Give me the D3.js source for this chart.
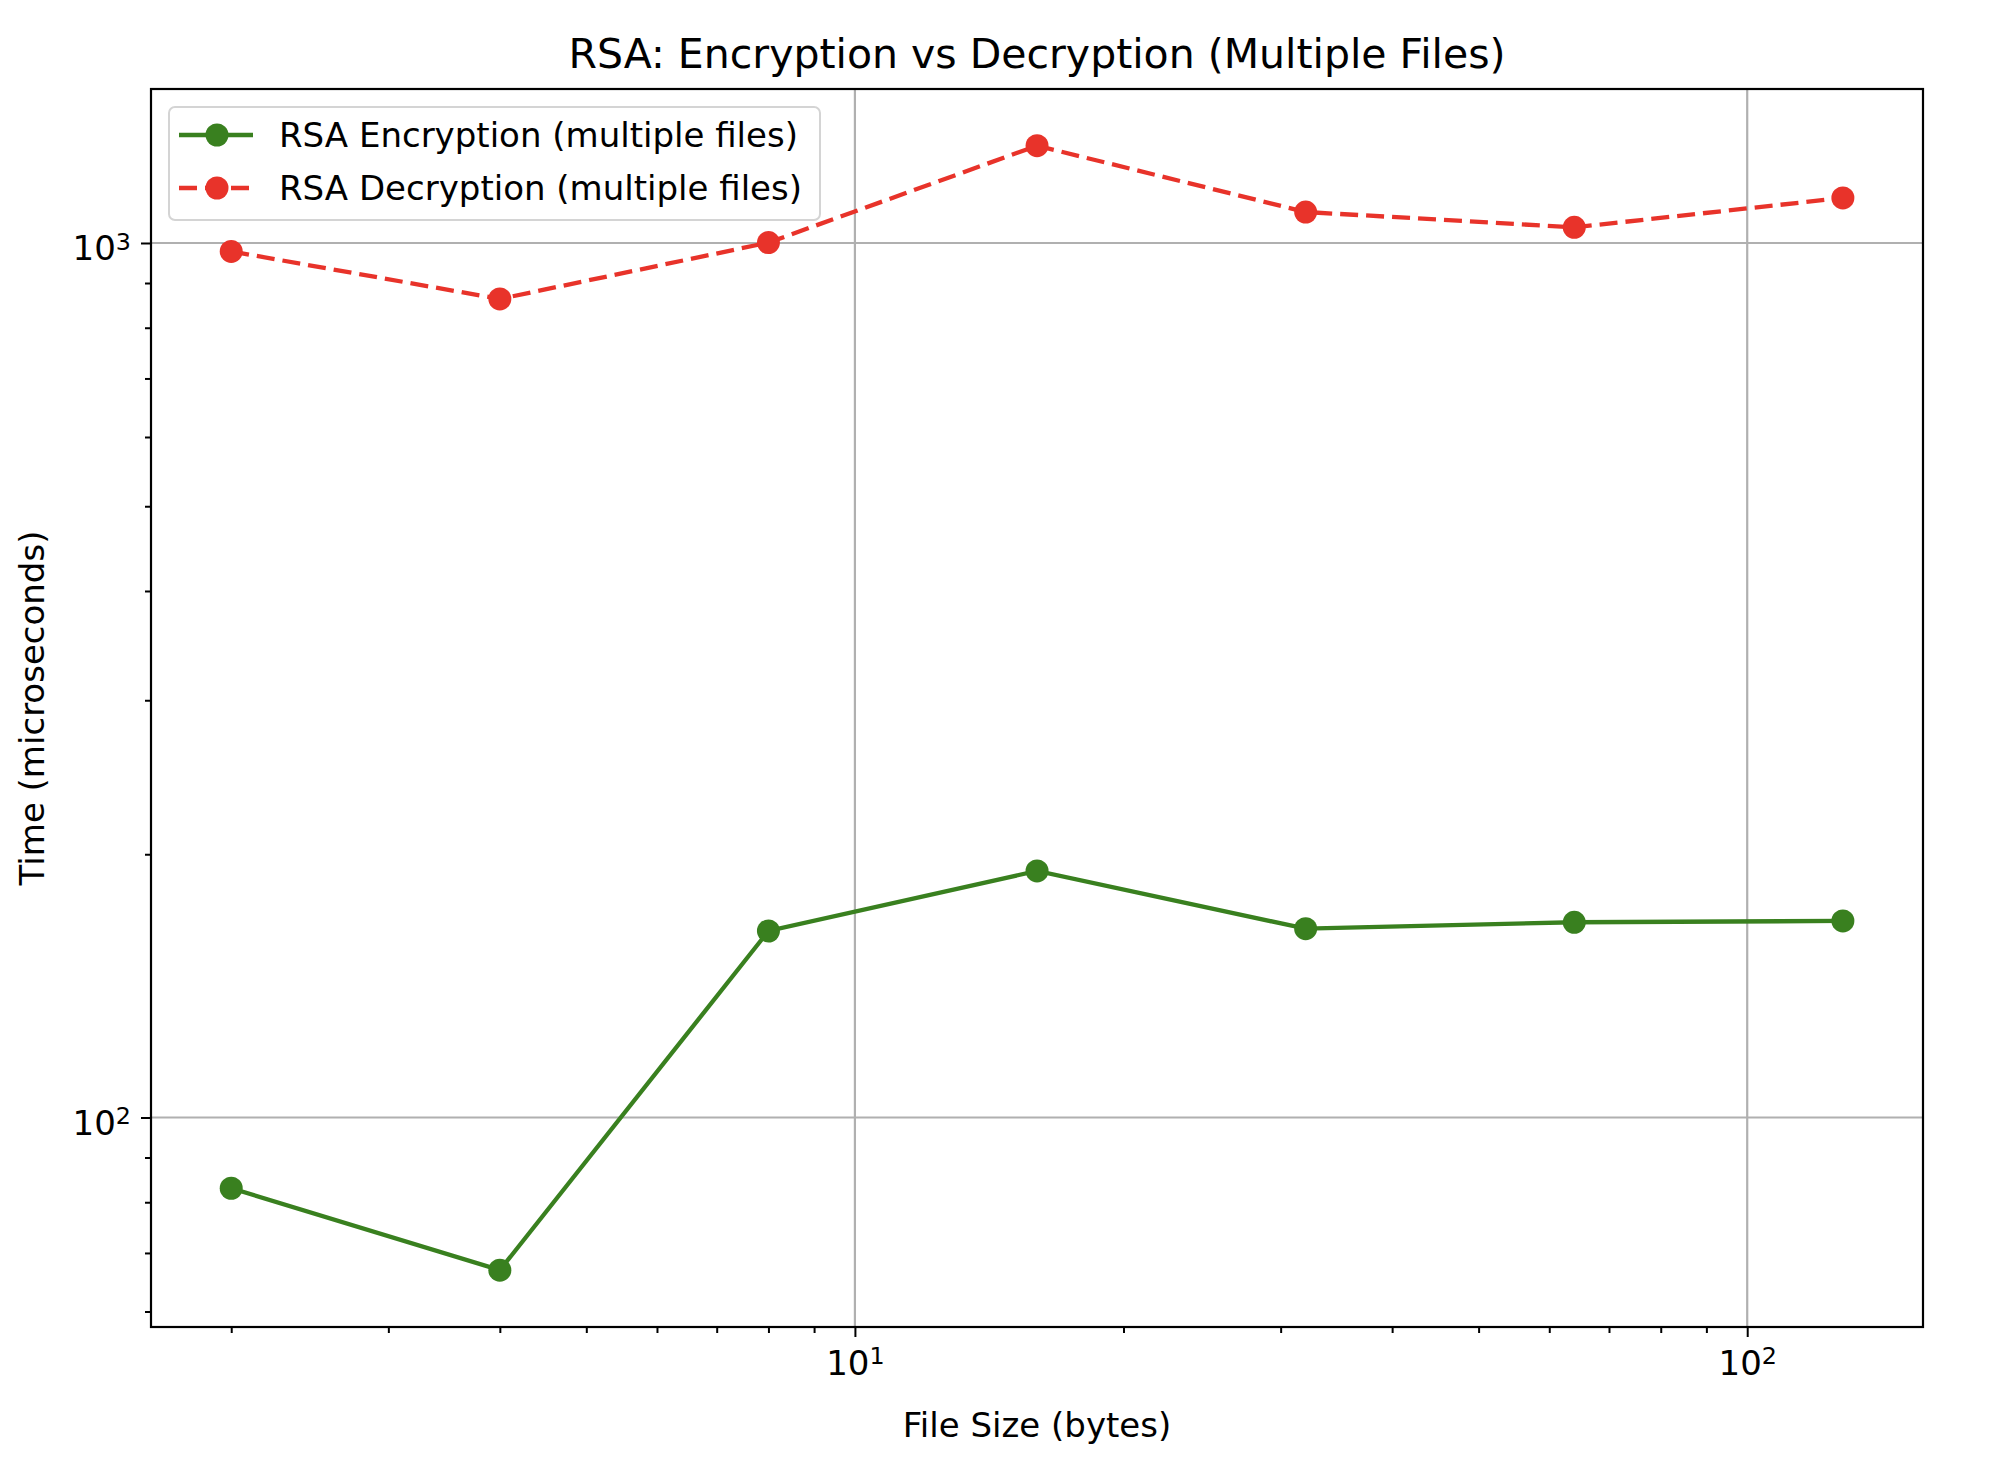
<!DOCTYPE html>
<html>
<head>
<meta charset="utf-8">
<script src="https://cdn.jsdelivr.net/npm/d3@7"></script>
<style>
  body { margin: 0; background: #fff; }
  text { font-family: "DejaVu Sans", sans-serif; fill: #000; }
</style>
</head>
<body>
<div id="chart"></div>
<script>
// data
var fileSizes = [2, 4, 8, 16, 32, 64, 128];
var encTimes = [83.0, 66.9, 163.4, 191.4, 164.4, 167.2, 167.8];
var decTimes = [978, 863, 1001, 1292, 1085, 1042, 1126];
var seriesNames = ['RSA Encryption (multiple files)', 'RSA Decryption (multiple files)'];
var xMajor = [10, 100];
var yMajor = [100, 1000];

var width = 2002;
var height = 1458;
var margin = {left: 151, right: 79, top: 89, bottom: 131};
var iw = width - margin.left - margin.right;
var ih = height - margin.top - margin.bottom;

var green = '#39801f';
var red = '#e8332a';
var dash = '18,8';

var x = d3.scaleLog()
  .domain([1.626, 157.4])
  .range([0, iw]);

var y = d3.scaleLog()
  .domain([57.6, 1500])
  .range([ih, 0]);

var svg = d3.select('#chart')
  .append('svg')
    .attr('width', width)
    .attr('height', height);

var g = svg.append('g')
  .attr('transform', 'translate(' + margin.left + ',' + margin.top + ')');

// grid (major only)
g.append('g').selectAll('line')
  .data(xMajor).enter()
  .append('line')
    .attr('x1', d => x(d)).attr('x2', d => x(d))
    .attr('y1', 0).attr('y2', ih)
    .attr('stroke', '#b0b0b0').attr('stroke-width', 2.2);

g.append('g').selectAll('line')
  .data(yMajor).enter()
  .append('line')
    .attr('y1', d => y(d)).attr('y2', d => y(d))
    .attr('x1', 0).attr('x2', iw)
    .attr('stroke', '#b0b0b0').attr('stroke-width', 2.2);

// minor ticks
var xMinor = x.ticks().filter(d => xMajor.indexOf(d) < 0);
var yMinor = y.ticks().filter(d => yMajor.indexOf(d) < 0);

g.append('g')
  .attr('transform', 'translate(0,' + ih + ')')
  .call(d3.axisBottom(x).tickValues(xMinor).tickSize(6).tickFormat(''));
var xAxisG = g.append('g')
  .attr('transform', 'translate(0,' + ih + ')')
  .call(d3.axisBottom(x).tickValues(xMajor).tickSize(10).tickPadding(14).tickFormat(d => d));

g.append('g')
  .call(d3.axisLeft(y).tickValues(yMinor).tickSize(6).tickFormat(''));
var yAxisG = g.append('g')
  .call(d3.axisLeft(y).tickValues(yMajor).tickSize(10).tickPadding(10).tickFormat(d => d));

g.selectAll('.domain').remove();
g.selectAll('.tick line').attr('stroke', '#000').attr('stroke-width', 2);

// power-of-ten labels
function sup(sel) {
  sel.each(function(d) {
    var t = d3.select(this);
    var p = Math.round(Math.log10(d));
    t.text(null);
    t.append('tspan').text('10');
    t.append('tspan').attr('dy', '-0.45em').attr('font-size', '0.7em').text(p);
  });
}
xAxisG.selectAll('.tick text').attr('font-size', 34).attr('font-family', 'DejaVu Sans').call(sup);
yAxisG.selectAll('.tick text').attr('font-size', 34).attr('font-family', 'DejaVu Sans').attr('dy', '0.5em').call(sup);

// frame
g.append('rect')
  .attr('width', iw).attr('height', ih)
  .attr('fill', 'none').attr('stroke', '#000').attr('stroke-width', 2.2);

var line = d3.line()
  .x((d, i) => x(fileSizes[i]))
  .y(d => y(d));

g.append('path')
  .datum(encTimes)
  .attr('d', line)
  .attr('fill', 'none')
  .attr('stroke', green)
  .attr('stroke-width', 4.3);

g.append('path')
  .datum(decTimes)
  .attr('d', line)
  .attr('fill', 'none')
  .attr('stroke', red)
  .attr('stroke-width', 4.3)
  .attr('stroke-dasharray', dash);

g.append('g').selectAll('circle')
  .data(encTimes).enter()
  .append('circle')
    .attr('cx', (d, i) => x(fileSizes[i]))
    .attr('cy', d => y(d))
    .attr('r', 11.5)
    .attr('fill', green);

g.append('g').selectAll('circle')
  .data(decTimes).enter()
  .append('circle')
    .attr('cx', (d, i) => x(fileSizes[i]))
    .attr('cy', d => y(d))
    .attr('r', 11.5)
    .attr('fill', red);

// legend
var legend = svg.append('g').attr('transform', 'translate(169,107)');
legend.append('rect')
  .attr('width', 651).attr('height', 113)
  .attr('rx', 6)
  .attr('fill', '#fff').attr('fill-opacity', 0.8)
  .attr('stroke', '#d4d4d4').attr('stroke-width', 2);

var items = legend.selectAll('g.item')
  .data(seriesNames).enter()
  .append('g')
    .attr('class', 'item')
    .attr('transform', (d, i) => 'translate(0,' + (28 + i * 53) + ')');

items.append('line')
  .attr('x1', 10).attr('x2', 84)
  .attr('stroke', (d, i) => i ? red : green)
  .attr('stroke-width', 4.3)
  .attr('stroke-dasharray', (d, i) => i ? dash : null);

items.append('circle')
  .attr('cx', 48).attr('r', 11.5)
  .attr('fill', (d, i) => i ? red : green);

items.append('text')
  .attr('x', 110).attr('dy', '0.35em')
  .attr('font-size', 34)
  .text(d => d);

// title and axis labels
svg.append('text')
  .attr('x', margin.left + iw / 2).attr('y', 54)
  .attr('dy', '0.35em')
  .attr('text-anchor', 'middle')
  .attr('font-size', 41)
  .text('RSA: Encryption vs Decryption (Multiple Files)');

svg.append('text')
  .attr('x', margin.left + iw / 2).attr('y', 1425)
  .attr('dy', '0.35em')
  .attr('text-anchor', 'middle')
  .attr('font-size', 34)
  .text('File Size (bytes)');

svg.append('text')
  .attr('transform', 'translate(32,' + (margin.top + ih / 2) + ') rotate(-90)')
  .attr('dy', '0.35em')
  .attr('text-anchor', 'middle')
  .attr('font-size', 34)
  .text('Time (microseconds)');
</script>
</body>
</html>
